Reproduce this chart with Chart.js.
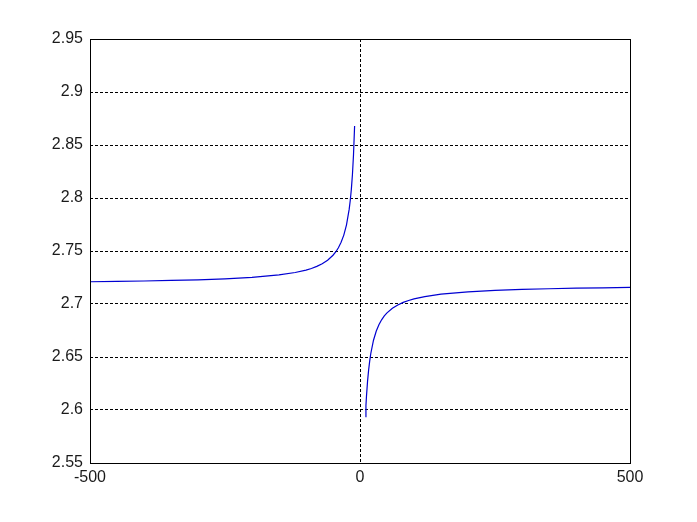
<!DOCTYPE html>
<html>
<head>
<meta charset="utf-8">
<script src="https://cdn.jsdelivr.net/npm/chart.js@4/dist/chart.umd.min.js"></script>
<style>
  html, body { margin: 0; padding: 0; background: #ffffff; }
  #wrap { width: 697px; height: 522px; position: relative; }
</style>
</head>
<body>
<div id="wrap"><canvas id="c" width="697" height="522"></canvas></div>
<script>
// Left branch (x < 0)
const leftX = [-500, -450, -400, -350, -300, -250, -200, -150, -120, -100, -90, -80, -70, -60, -50, -45, -40, -35, -30, -25, -20, -18, -16, -14, -12, -10];
const leftY = [2.7210, 2.7213, 2.7217, 2.7222, 2.7228, 2.7237, 2.7251, 2.7274, 2.7297, 2.7320, 2.7335, 2.7355, 2.7380, 2.7413, 2.7460, 2.7491, 2.7531, 2.7582, 2.7650, 2.7747, 2.7895, 2.7979, 2.8084, 2.8222, 2.8410, 2.8680];
// Right branch (x > 0)
const rightX = [10, 11, 12, 14, 16, 18, 20, 25, 30, 35, 40, 45, 50, 60, 70, 80, 90, 100, 120, 150, 200, 250, 300, 350, 400, 450, 500];
const rightY = [2.5937, 2.6042, 2.6130, 2.6272, 2.6379, 2.6464, 2.6533, 2.6658, 2.6743, 2.6804, 2.6851, 2.6887, 2.6916, 2.6960, 2.6991, 2.7015, 2.7033, 2.7048, 2.7070, 2.7093, 2.7115, 2.7129, 2.7138, 2.7144, 2.7149, 2.7153, 2.7156];
// Tick values
const xTicks = [-500, 0, 500];
const yTicks = [2.55, 2.6, 2.65, 2.7, 2.75, 2.8, 2.85, 2.9, 2.95];

const lineColor = 'rgb(0,0,210)';
const toPts = (xs, ys) => xs.map((x, i) => ({ x: x, y: ys[i] }));

const boxPlugin = {
  id: 'box',
  afterDraw(chart) {
    const a = chart.chartArea, ctx = chart.ctx;
    ctx.save();
    ctx.strokeStyle = '#000';
    ctx.lineWidth = 1;
    ctx.setLineDash([]);
    ctx.strokeRect(Math.round(a.left) + 0.5, Math.round(a.top) + 0.5,
                   Math.round(a.right - a.left), Math.round(a.bottom - a.top));
    ctx.restore();
  }
};

new Chart(document.getElementById('c'), {
  type: 'line',
  data: {
    datasets: [
      { data: toPts(leftX, leftY), borderColor: lineColor, borderWidth: 1.2, pointRadius: 0, fill: false, tension: 0 },
      { data: toPts(rightX, rightY), borderColor: lineColor, borderWidth: 1.2, pointRadius: 0, fill: false, tension: 0 }
    ]
  },
  options: {
    responsive: false,
    animation: false,
    layout: { padding: { left: 0, top: 39, right: 67, bottom: 0 } },
    plugins: { legend: { display: false }, tooltip: { enabled: false } },
    scales: {
      x: {
        type: 'linear',
        min: -500, max: 500,
        afterFit(s) { s.height = 59; },
        afterBuildTicks(s) { s.ticks = xTicks.map(v => ({ value: v })); },
        grid: {
          drawTicks: false,
          color: ctx => (ctx.tick && ctx.tick.value === 0) ? '#000' : 'rgba(0,0,0,0)',
          lineWidth: 1
        },
        border: { display: false, dash: [3, 2] },
        ticks: {
          padding: 5,
          maxRotation: 0,
          autoSkip: false,
          color: '#1a1a1a',
          font: { family: 'Liberation Sans, Arial, sans-serif', size: 16 },
          callback: v => String(v)
        }
      },
      y: {
        type: 'linear',
        min: 2.55, max: 2.95,
        afterFit(s) { s.width = 90; },
        afterBuildTicks(s) { s.ticks = yTicks.map(v => ({ value: v })); },
        grid: {
          drawTicks: false,
          color: '#000',
          lineWidth: 1
        },
        border: { display: false, dash: [3, 2] },
        ticks: {
          padding: 7,
          autoSkip: false,
          color: '#1a1a1a',
          font: { family: 'Liberation Sans, Arial, sans-serif', size: 16 },
          callback: v => String(Number(v.toFixed(2)))
        }
      }
    }
  },
  plugins: [boxPlugin]
});
</script>
</body>
</html>
